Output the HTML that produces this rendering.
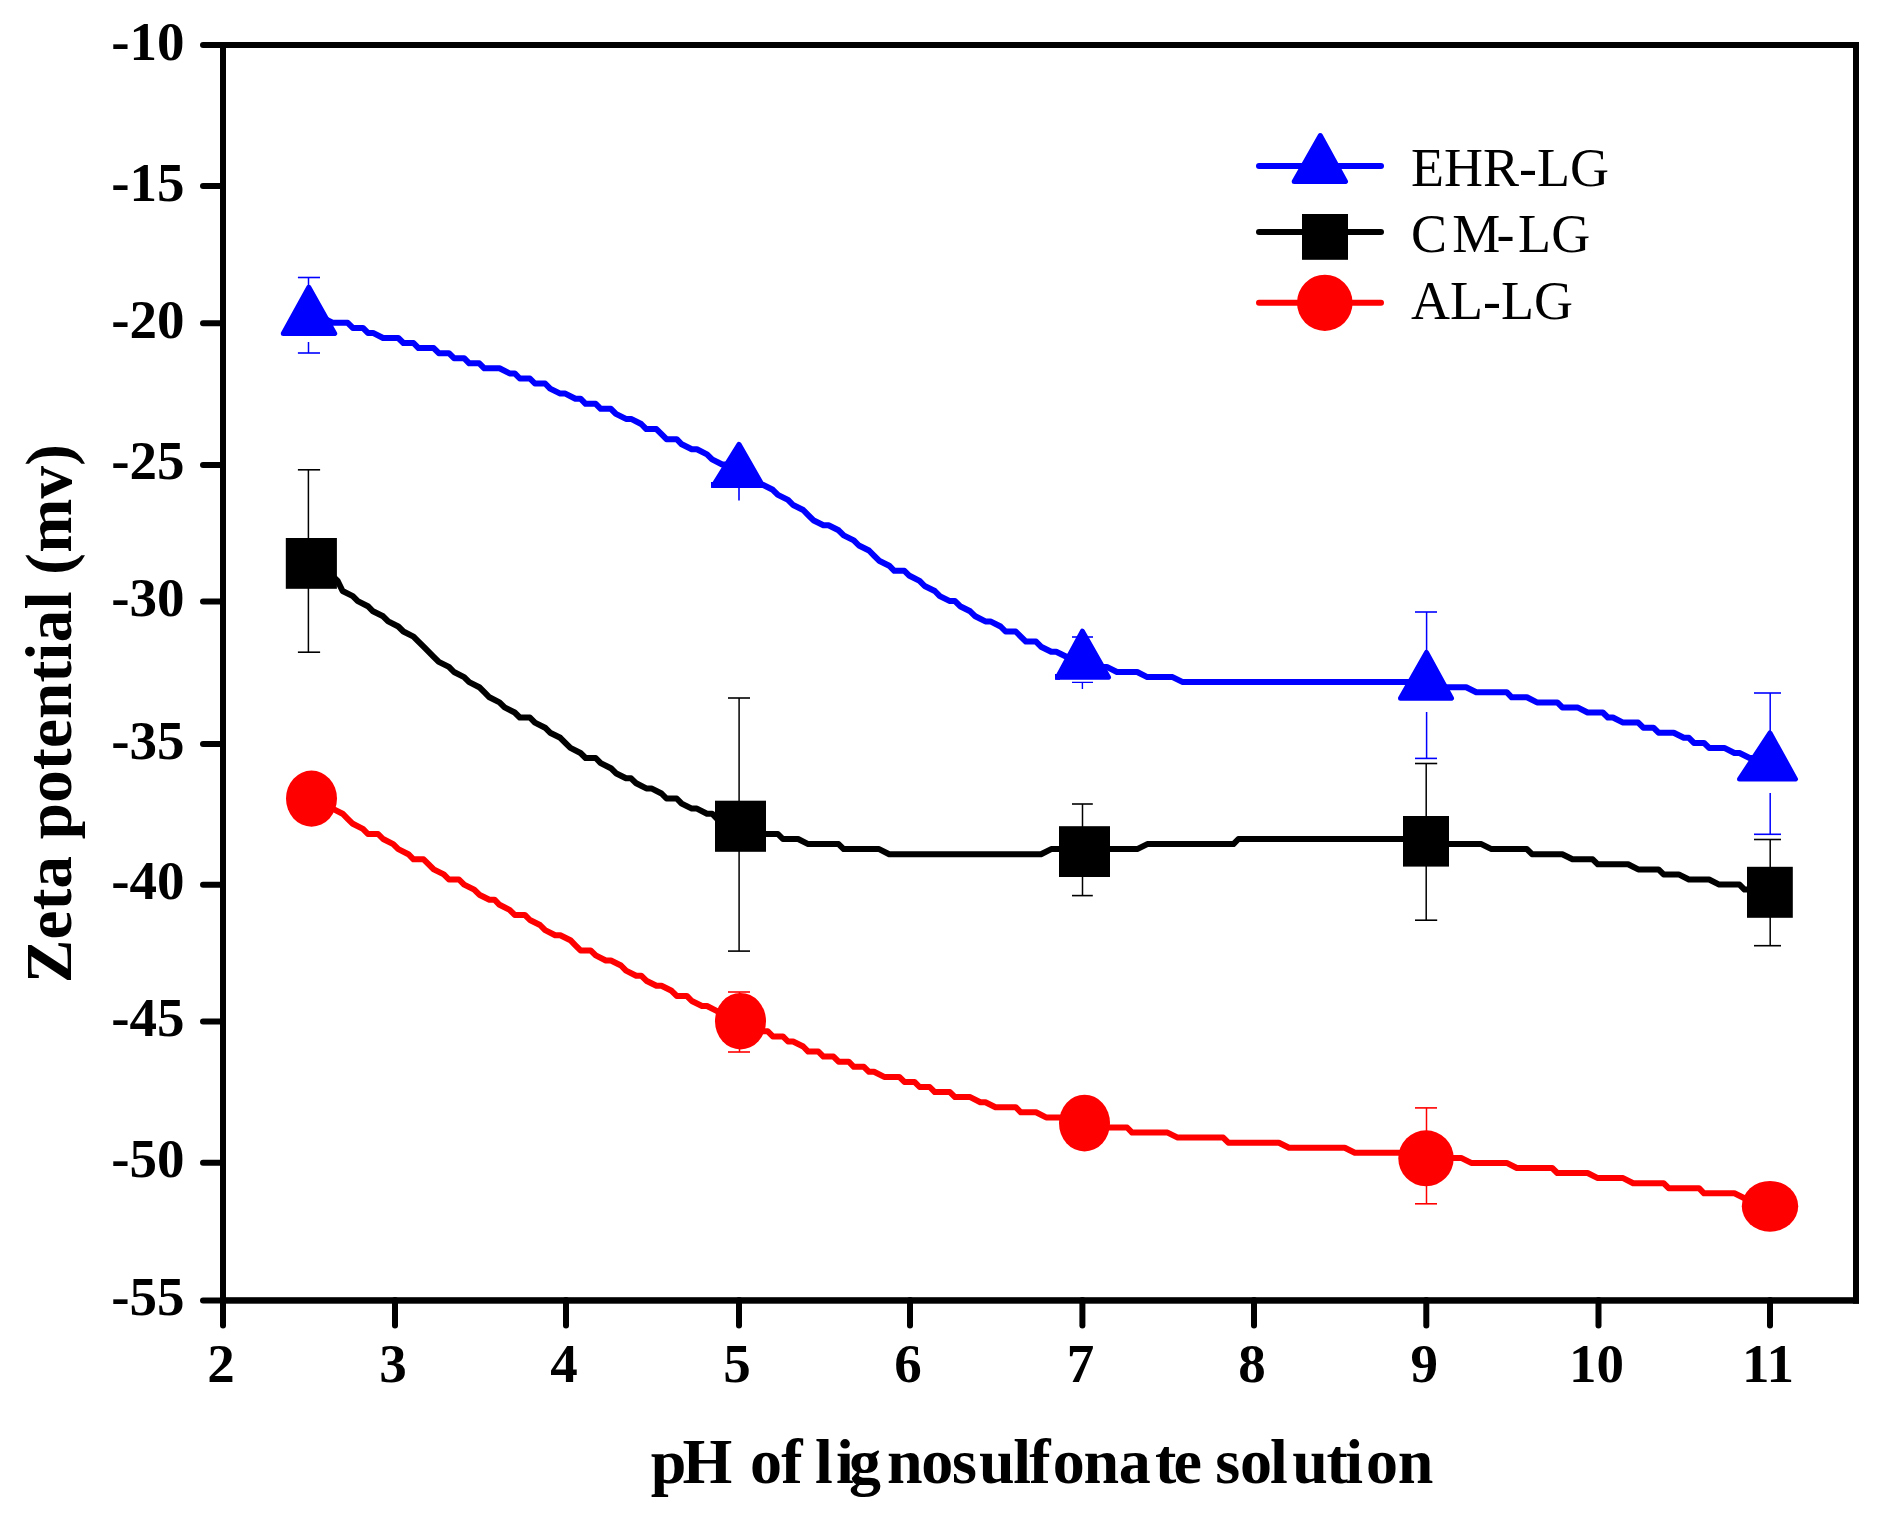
<!DOCTYPE html>
<html><head><meta charset="utf-8"><title>Zeta potential</title>
<style>html,body{margin:0;padding:0;background:#fff}svg{display:block}</style></head>
<body>
<svg width="1888" height="1513" viewBox="0 0 1888 1513" style="display:block">
<rect x="0" y="0" width="1888" height="1513" fill="#fff"/>
<path d="M307.2,560.7 L317.3,565.7 L322.4,570.8 L332.5,575.8 L337.6,580.9 L342.6,591.0 L352.8,596.1 L357.8,601.1 L367.9,606.2 L373.0,611.3 L383.1,616.3 L388.2,621.4 L398.3,626.5 L403.4,631.5 L413.5,636.6 L418.5,641.6 L423.6,646.7 L433.7,656.8 L438.8,661.9 L448.9,666.9 L454.0,672.0 L464.1,677.1 L469.2,682.1 L479.3,687.2 L484.3,692.2 L489.4,697.3 L499.5,702.4 L504.6,707.4 L514.7,712.5 L519.8,717.5 L529.9,717.5 L534.9,722.6 L545.1,727.7 L550.1,732.7 L560.3,737.8 L565.3,742.9 L570.4,747.9 L580.5,753.0 L585.6,758.0 L595.7,758.0 L600.7,763.1 L610.9,768.2 L615.9,773.2 L626.0,778.3 L631.1,778.3 L636.2,783.3 L646.3,788.4 L651.4,788.4 L661.5,793.5 L666.5,798.5 L676.7,798.5 L681.7,803.6 L691.8,808.6 L696.9,808.6 L707.0,813.7 L712.1,813.7 L717.1,818.8 L727.3,818.8 L732.3,823.8 L742.4,823.8 L747.5,828.9 L757.6,828.9 L762.7,834.0 L777.9,834.0 L782.9,839.0 L798.1,839.0 L808.2,844.1 L838.6,844.1 L843.7,849.1 L879.1,849.1 L889.2,854.2 L1041.0,854.2 L1051.2,849.1 L1137.2,849.1 L1147.3,844.1 L1233.4,844.1 L1238.4,839.0 L1415.6,839.0 L1425.7,844.1 L1481.4,844.1 L1491.5,849.1 L1526.9,849.1 L1532.0,854.2 L1562.3,854.2 L1572.5,859.3 L1592.7,859.3 L1597.8,864.3 L1628.1,864.3 L1638.2,869.4 L1658.5,869.4 L1663.6,874.4 L1678.7,874.4 L1688.9,879.5 L1709.1,879.5 L1719.2,884.6 L1739.5,884.6 L1744.5,889.6 L1759.7,889.6 L1769.8,894.7" fill="none" stroke="#000000" stroke-width="6" stroke-linejoin="round" stroke-linecap="round"/>
<path d="M312.3,798.5 L317.3,803.6 L327.4,808.6 L332.5,808.6 L342.6,813.7 L347.7,818.8 L352.8,823.8 L362.9,828.9 L367.9,834.0 L378.1,834.0 L383.1,839.0 L393.2,844.1 L398.3,849.1 L408.4,854.2 L413.5,859.3 L423.6,859.3 L428.7,864.3 L433.7,869.4 L443.8,874.4 L448.9,879.5 L459.0,879.5 L464.1,884.6 L474.2,889.6 L479.3,894.7 L489.4,899.7 L494.5,899.7 L499.5,904.8 L509.6,909.9 L514.7,914.9 L524.8,914.9 L529.9,920.0 L540.0,925.0 L545.1,930.1 L555.2,935.2 L560.3,935.2 L570.4,940.2 L575.4,945.3 L580.5,950.4 L590.6,950.4 L595.7,955.4 L605.8,960.5 L610.9,960.5 L621.0,965.5 L626.0,970.6 L636.2,975.7 L641.2,975.7 L646.3,980.7 L656.4,985.8 L661.5,985.8 L671.6,990.8 L676.7,995.9 L686.8,995.9 L691.8,1001.0 L702.0,1006.0 L707.0,1006.0 L717.1,1011.1 L722.2,1016.1 L727.3,1016.1 L737.4,1021.2 L742.4,1021.2 L752.6,1026.3 L757.6,1031.3 L767.8,1031.3 L772.8,1036.4 L782.9,1036.4 L788.0,1041.5 L793.1,1041.5 L803.2,1046.5 L808.2,1051.6 L818.4,1051.6 L823.4,1056.6 L833.5,1056.6 L838.6,1061.7 L848.7,1061.7 L853.8,1066.8 L863.9,1066.8 L869.0,1071.8 L874.0,1071.8 L884.2,1076.9 L899.3,1076.9 L904.4,1081.9 L914.5,1081.9 L919.6,1087.0 L929.7,1087.0 L934.8,1092.1 L949.9,1092.1 L955.0,1097.1 L970.2,1097.1 L980.3,1102.2 L985.4,1102.2 L995.5,1107.2 L1015.7,1107.2 L1020.8,1112.3 L1036.0,1112.3 L1046.1,1117.4 L1061.3,1117.4 L1066.4,1122.4 L1096.7,1122.4 L1101.8,1127.5 L1127.1,1127.5 L1132.1,1132.6 L1167.6,1132.6 L1177.7,1137.6 L1223.2,1137.6 L1228.3,1142.7 L1278.9,1142.7 L1289.0,1147.7 L1344.7,1147.7 L1354.8,1152.8 L1410.5,1152.8 L1420.6,1157.9 L1461.1,1157.9 L1471.2,1162.9 L1506.7,1162.9 L1516.8,1168.0 L1552.2,1168.0 L1557.3,1173.0 L1587.6,1173.0 L1597.8,1178.1 L1623.1,1178.1 L1633.2,1183.2 L1663.6,1183.2 L1668.6,1188.2 L1699.0,1188.2 L1704.0,1193.3 L1734.4,1193.3 L1744.5,1198.3 L1764.8,1198.3" fill="none" stroke="#ff0000" stroke-width="6" stroke-linejoin="round" stroke-linecap="round"/>
<path d="M307.2,317.7 L322.4,317.7 L332.5,322.8 L347.7,322.8 L352.8,327.9 L362.9,327.9 L367.9,332.9 L373.0,332.9 L383.1,338.0 L398.3,338.0 L403.4,343.0 L413.5,343.0 L418.5,348.1 L433.7,348.1 L438.8,353.2 L448.9,353.2 L454.0,358.2 L464.1,358.2 L469.2,363.3 L479.3,363.3 L484.3,368.3 L499.5,368.3 L509.6,373.4 L514.7,373.4 L519.8,378.5 L529.9,378.5 L534.9,383.5 L545.1,383.5 L550.1,388.6 L560.3,393.6 L565.3,393.6 L575.4,398.7 L580.5,398.7 L585.6,403.8 L595.7,403.8 L600.7,408.8 L610.9,408.8 L615.9,413.9 L626.0,418.9 L631.1,418.9 L641.2,424.0 L646.3,429.1 L656.4,429.1 L661.5,434.1 L666.5,439.2 L676.7,439.2 L681.7,444.3 L691.8,449.3 L696.9,449.3 L707.0,454.4 L712.1,459.4 L722.2,464.5 L727.3,464.5 L732.3,469.6 L742.4,474.6 L747.5,479.7 L757.6,484.7 L762.7,484.7 L772.8,489.8 L777.9,494.9 L788.0,499.9 L793.1,505.0 L803.2,510.0 L808.2,515.1 L813.3,520.2 L823.4,525.2 L828.5,525.2 L838.6,530.3 L843.7,535.4 L853.8,540.4 L858.9,545.5 L869.0,550.5 L874.0,555.6 L879.1,560.7 L889.2,565.7 L894.3,570.8 L904.4,570.8 L909.5,575.8 L919.6,580.9 L924.6,586.0 L934.8,591.0 L939.8,596.1 L949.9,601.1 L955.0,601.1 L960.1,606.2 L970.2,611.3 L975.3,616.3 L985.4,621.4 L990.4,621.4 L1000.6,626.5 L1005.6,631.5 L1015.7,631.5 L1020.8,636.6 L1025.9,641.6 L1036.0,641.6 L1041.0,646.7 L1051.2,651.8 L1056.2,651.8 L1066.4,656.8 L1071.4,656.8 L1081.5,661.9 L1086.6,661.9 L1096.7,666.9 L1106.8,666.9 L1117.0,672.0 L1137.2,672.0 L1147.3,677.1 L1172.6,677.1 L1182.8,682.1 L1415.6,682.1 L1425.7,687.2 L1466.2,687.2 L1476.3,692.2 L1506.7,692.2 L1511.7,697.3 L1526.9,697.3 L1537.0,702.4 L1557.3,702.4 L1562.3,707.4 L1577.5,707.4 L1587.6,712.5 L1602.8,712.5 L1607.9,717.5 L1612.9,717.5 L1623.1,722.6 L1638.2,722.6 L1643.3,727.7 L1653.4,727.7 L1658.5,732.7 L1673.7,732.7 L1683.8,737.8 L1688.9,737.8 L1693.9,742.9 L1704.0,742.9 L1709.1,747.9 L1724.3,747.9 L1734.4,753.0 L1739.5,753.0 L1749.6,758.0 L1754.6,758.0 L1759.7,763.1 L1769.8,763.1" fill="none" stroke="#0000ff" stroke-width="6" stroke-linejoin="round" stroke-linecap="round"/>
<path d="M297.9,277.5H320.0" stroke="#0000ff" stroke-width="1.6"/><path d="M308.5,277.5V290.0" stroke="#0000ff" stroke-width="1.5"/><path d="M297.9,353.0H320.0" stroke="#0000ff" stroke-width="1.6"/><path d="M308.5,342.0V353.0" stroke="#0000ff" stroke-width="1.5"/>
<path d="M739,488V500.6" stroke="#0000ff" stroke-width="1.6"/>
<path d="M1072,637H1093" stroke="#0000ff" stroke-width="1.6"/><path d="M1072,682.4H1093M1082.4,682.4V689" stroke="#0000ff" stroke-width="1.4"/>
<path d="M1415.0,612.0H1437.0" stroke="#0000ff" stroke-width="1.6"/><path d="M1426.6,612.0V655.0" stroke="#0000ff" stroke-width="1.5"/><path d="M1415.0,758.4H1437.0" stroke="#0000ff" stroke-width="1.6"/><path d="M1426.6,712.0V758.4" stroke="#0000ff" stroke-width="1.5"/>
<path d="M1754.0,693.0H1781.0" stroke="#0000ff" stroke-width="1.6"/><path d="M1770.2,693.0V735.0" stroke="#0000ff" stroke-width="1.5"/><path d="M1754.0,834.3H1781.0" stroke="#0000ff" stroke-width="1.6"/><path d="M1770.2,793.0V834.3" stroke="#0000ff" stroke-width="1.5"/>
<path d="M297.9,469.8H320.1" stroke="#000" stroke-width="1.6"/><path d="M308.4,469.8V540.0" stroke="#000" stroke-width="1.5"/><path d="M297.9,652.2H320.1" stroke="#000" stroke-width="1.6"/><path d="M308.4,588.0V652.2" stroke="#000" stroke-width="1.5"/>
<path d="M728.0,698.0H750.0" stroke="#000" stroke-width="1.6"/><path d="M739.1,698.0V802.0" stroke="#000" stroke-width="1.5"/><path d="M728.0,951.1H750.0" stroke="#000" stroke-width="1.6"/><path d="M739.1,850.0V951.1" stroke="#000" stroke-width="1.5"/>
<path d="M1072.0,804.0H1092.8" stroke="#000" stroke-width="1.6"/><path d="M1082.5,804.0V828.0" stroke="#000" stroke-width="1.5"/><path d="M1072.0,895.6H1092.8" stroke="#000" stroke-width="1.6"/><path d="M1082.5,876.0V895.6" stroke="#000" stroke-width="1.5"/>
<path d="M1415.0,763.5H1437.2" stroke="#000" stroke-width="1.6"/><path d="M1426.2,763.5V818.0" stroke="#000" stroke-width="1.5"/><path d="M1415.0,920.2H1437.2" stroke="#000" stroke-width="1.6"/><path d="M1426.2,865.0V920.2" stroke="#000" stroke-width="1.5"/>
<path d="M1754.0,839.5H1781.0" stroke="#000" stroke-width="1.6"/><path d="M1770.2,839.5V868.0" stroke="#000" stroke-width="1.5"/><path d="M1754.0,945.7H1781.0" stroke="#000" stroke-width="1.6"/><path d="M1770.2,916.0V945.7" stroke="#000" stroke-width="1.5"/>
<path d="M728.0,992.0H750.0" stroke="#ff0000" stroke-width="1.6"/><path d="M739.5,992.0V996.0" stroke="#ff0000" stroke-width="1.5"/><path d="M728.0,1052.0H750.0" stroke="#ff0000" stroke-width="1.6"/><path d="M739.5,1046.0V1052.0" stroke="#ff0000" stroke-width="1.5"/>
<path d="M1415.0,1107.9H1437.0" stroke="#ff0000" stroke-width="1.6"/><path d="M1426.5,1107.9V1133.0" stroke="#ff0000" stroke-width="1.5"/><path d="M1415.0,1203.8H1437.0" stroke="#ff0000" stroke-width="1.6"/><path d="M1426.5,1184.0V1203.8" stroke="#ff0000" stroke-width="1.5"/>
<path d="M308.8,287.3L334.7,333.5L283.3,333.5Z" fill="#0000ff" stroke="#0000ff" stroke-width="5.0" stroke-linejoin="round"/>
<path d="M739.0,444.3L762.5,485.4L713.5,485.4Z" fill="#0000ff" stroke="#0000ff" stroke-width="5.0" stroke-linejoin="round"/>
<rect x="711" y="482" width="5" height="5.9" fill="#0000ff"/>
<path d="M1082.4,631.2L1108.5,677.3L1057.5,677.3Z" fill="#0000ff" stroke="#0000ff" stroke-width="5.0" stroke-linejoin="round"/>
<rect x="1055" y="674" width="5" height="5.8" fill="#0000ff"/>
<path d="M1426.5,652.4L1451.5,698.3L1400.5,698.3Z" fill="#0000ff" stroke="#0000ff" stroke-width="5.0" stroke-linejoin="round"/>
<path d="M1770.0,733.0L1795.5,779.1L1739.5,779.1Z" fill="#0000ff" stroke="#0000ff" stroke-width="5.0" stroke-linejoin="round"/>
<rect x="285.8" y="538.0" width="51.1" height="50.8" fill="#000"/>
<rect x="715.0" y="800.7" width="51.0" height="51.1" fill="#000"/>
<rect x="1059.0" y="826.2" width="51.0" height="50.8" fill="#000"/>
<rect x="1403.0" y="816.0" width="46.0" height="50.6" fill="#000"/>
<rect x="1747.0" y="866.8" width="45.8" height="51.0" fill="#000"/>
<ellipse cx="311.5" cy="798.6" rx="25.5" ry="28.1" fill="#ff0000"/>
<ellipse cx="740.5" cy="1021.2" rx="25.5" ry="28.3" fill="#ff0000"/>
<ellipse cx="1084.5" cy="1123.1" rx="25.5" ry="28.4" fill="#ff0000"/>
<ellipse cx="1426.0" cy="1158.3" rx="27.7" ry="28.0" fill="#ff0000"/>
<ellipse cx="1770.0" cy="1206.3" rx="28.2" ry="25.4" fill="#ff0000"/>
<g fill="#000">
<rect x="220" y="42" width="1639" height="6"/>
<rect x="220" y="1297.2" width="1639" height="6.5"/>
<rect x="220" y="42" width="6" height="1261.7"/>
<rect x="1853" y="42" width="6" height="1261.7"/>
<path d="M203,45.0H222" stroke="#000" stroke-width="6" stroke-linecap="round"/>
<path d="M203,186.0H222" stroke="#000" stroke-width="6" stroke-linecap="round"/>
<path d="M203,323.2H222" stroke="#000" stroke-width="6" stroke-linecap="round"/>
<path d="M203,464.9H222" stroke="#000" stroke-width="6" stroke-linecap="round"/>
<path d="M203,601.6H222" stroke="#000" stroke-width="6" stroke-linecap="round"/>
<path d="M203,744.0H222" stroke="#000" stroke-width="6" stroke-linecap="round"/>
<path d="M203,884.8H222" stroke="#000" stroke-width="6" stroke-linecap="round"/>
<path d="M203,1021.5H222" stroke="#000" stroke-width="6" stroke-linecap="round"/>
<path d="M203,1162.8H222" stroke="#000" stroke-width="6" stroke-linecap="round"/>
<path d="M203,1300.4H222" stroke="#000" stroke-width="6" stroke-linecap="round"/>
<path d="M223.0,1300V1325.5" stroke="#000" stroke-width="6" stroke-linecap="round"/>
<path d="M395.0,1300V1325.5" stroke="#000" stroke-width="6" stroke-linecap="round"/>
<path d="M566.0,1300V1325.5" stroke="#000" stroke-width="6" stroke-linecap="round"/>
<path d="M739.0,1300V1325.5" stroke="#000" stroke-width="6" stroke-linecap="round"/>
<path d="M910.0,1300V1325.5" stroke="#000" stroke-width="6" stroke-linecap="round"/>
<path d="M1082.4,1300V1325.5" stroke="#000" stroke-width="6" stroke-linecap="round"/>
<path d="M1254.0,1300V1325.5" stroke="#000" stroke-width="6" stroke-linecap="round"/>
<path d="M1426.3,1300V1325.5" stroke="#000" stroke-width="6" stroke-linecap="round"/>
<path d="M1598.5,1300V1325.5" stroke="#000" stroke-width="6" stroke-linecap="round"/>
<path d="M1770.0,1300V1325.5" stroke="#000" stroke-width="6" stroke-linecap="round"/>
</g>
<g font-family="'Liberation Serif', 'Times New Roman', serif" font-weight="bold" font-size="55" fill="#000">
<text x="184.5" y="59.5" text-anchor="end">-10</text>
<text x="184.5" y="200.5" text-anchor="end">-15</text>
<text x="184.5" y="337.7" text-anchor="end">-20</text>
<text x="184.5" y="479.4" text-anchor="end">-25</text>
<text x="184.5" y="616.1" text-anchor="end">-30</text>
<text x="184.5" y="758.5" text-anchor="end">-35</text>
<text x="184.5" y="899.2" text-anchor="end">-40</text>
<text x="184.5" y="1036.0" text-anchor="end">-45</text>
<text x="184.5" y="1177.3" text-anchor="end">-50</text>
<text x="184.5" y="1314.9" text-anchor="end">-55</text>
<text x="221.0" y="1382" text-anchor="middle">2</text>
<text x="393.0" y="1382" text-anchor="middle">3</text>
<text x="564.0" y="1382" text-anchor="middle">4</text>
<text x="737.0" y="1382" text-anchor="middle">5</text>
<text x="908.0" y="1382" text-anchor="middle">6</text>
<text x="1080.4" y="1382" text-anchor="middle">7</text>
<text x="1252.0" y="1382" text-anchor="middle">8</text>
<text x="1424.3" y="1382" text-anchor="middle">9</text>
<text x="1596.5" y="1382" text-anchor="middle">10</text>
<text x="1768.0" y="1382" text-anchor="middle">11</text>
</g>
<text x="650.7 682.6 735.7 750.0 781.3 804.2 815.1 836.1 848.9 886.9 921.2 952.0 979.0 1013.3 1029.3 1052.8 1083.6 1118.7 1155.1 1173.4 1199.4 1215.3 1239.9 1269.9 1292.3 1326.6 1345.3 1366.1 1397.7" y="1482.7" font-family="'Liberation Serif', 'Times New Roman', serif" font-weight="bold" font-size="64">pH of lignosulfonate solution</text>
<text transform="translate(71,983) rotate(-90)" font-family="'Liberation Serif', 'Times New Roman', serif" font-weight="bold" font-size="65" textLength="539" lengthAdjust="spacing">Zeta potential (mv)</text>
<path d="M1259,166H1381" stroke="#0000ff" stroke-width="6" stroke-linecap="round"/>
<path d="M1259,232H1381" stroke="#000" stroke-width="6" stroke-linecap="round"/>
<path d="M1259,302.8H1381" stroke="#ff0000" stroke-width="6" stroke-linecap="round"/>
<path d="M1320.3,135.5L1345.5,181.5L1294.2,181.5Z" fill="#0000ff" stroke="#0000ff" stroke-width="5.0" stroke-linejoin="round"/>
<rect x="1302.0" y="214.0" width="46.0" height="45.8" fill="#000"/>
<ellipse cx="1324.8" cy="302.8" rx="27.8" ry="28.1" fill="#ff0000"/>
<g font-family="'Liberation Serif', 'Times New Roman', serif" font-size="54" fill="#000">
<text x="1411" y="185.8">EHR-LG</text>
<text x="1411 1452.3 1496.6 1517.9 1551.2" y="252">CM-LG</text>
<text x="1411" y="318.5">AL-LG</text>
</g>
</svg>
</body></html>
